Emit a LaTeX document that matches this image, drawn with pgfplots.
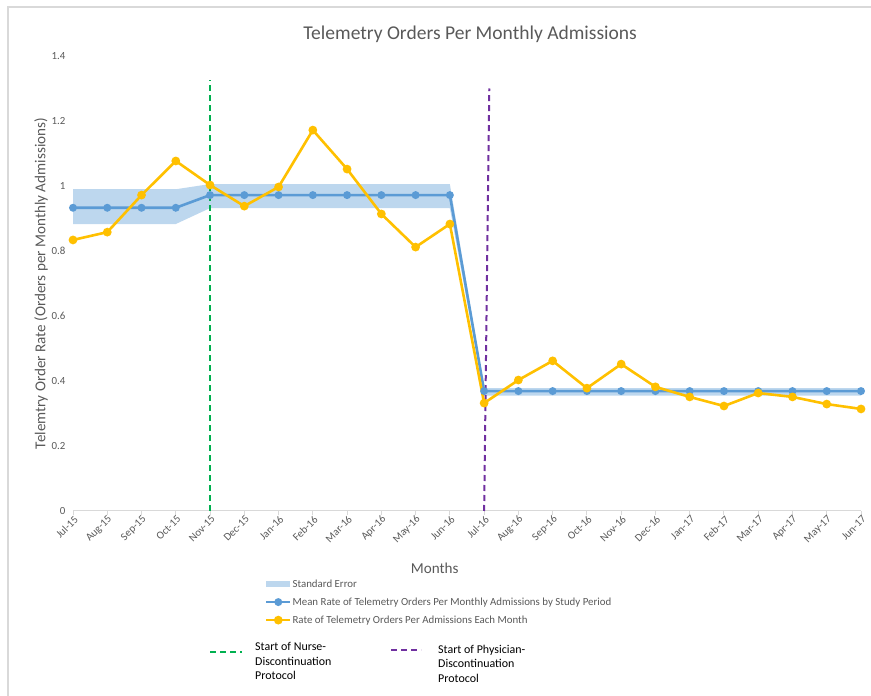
\documentclass[border=0pt]{standalone}
\usepackage{pgfplots}
\pgfplotsset{compat=1.18}
\usepackage{fontspec}
\setmainfont{Carlito}
\definecolor{txtgray}{HTML}{595959}
\definecolor{bluel}{HTML}{5B9BD5}
\definecolor{band}{HTML}{BDD7EE}
\definecolor{gold}{HTML}{FFC000}
\definecolor{grn}{HTML}{00B050}
\definecolor{purp}{HTML}{7030A0}
\definecolor{axgray}{HTML}{D9D9D9}
\pgfplotsset{
 mylegline/.style={legend image code/.code={\draw[mark repeat=2,mark phase=2,##1] plot coordinates {(0bp,0bp) (12bp,0bp) (24bp,0bp)};}},
 mylegarea/.style={legend image code/.code={\fill[band] (0bp,-3bp) rectangle (24bp,3bp);}},
}

\begin{document}
\begin{tikzpicture}
\useasboundingbox (0bp,0bp) rectangle (871bp,696bp);
\draw[axgray, line width=1.2bp] (8bp,0bp) -- (8bp,689bp) -- (871bp,689bp);
\begin{axis}[
 at={(73bp,185bp)}, anchor=south west,
 scale only axis, width=788bp, height=455bp,
 xmin=0, xmax=23, ymin=0, ymax=1.4,
 axis x line*=bottom, axis y line*=left,
 x axis line style={draw=axgray, line width=1bp},
 y axis line style={draw=none},
 ytick={0,0.2,0.4,0.6,0.8,1,1.2,1.4},
 yticklabels={0,0.2,0.4,0.6,0.8,1,1.2,1.4},
 ytick style={draw=none},
 xtick={0,...,23},
 xticklabels={Jul-15,Aug-15,Sep-15,Oct-15,Nov-15,Dec-15,Jan-16,Feb-16,Mar-16,Apr-16,May-16,Jun-16,Jul-16,Aug-16,Sep-16,Oct-16,Nov-16,Dec-16,Jan-17,Feb-17,Mar-17,Apr-17,May-17,Jun-17},
 xtick style={draw=axgray, line width=1bp},
 tick align=outside, major tick length=4bp,
 xticklabel style={rotate=45, anchor=east, font=\fontsize{10.9}{13}\selectfont, text=txtgray, inner sep=1bp, xshift=1.5bp, yshift=-4bp},
 yticklabel style={font=\fontsize{10.9}{13}\selectfont, text=txtgray},
 title={Telemetry Orders Per Monthly Admissions},
 title style={at={(axis description cs:0.504,1.035)}, anchor=center, font=\fontsize{19.6}{23}\selectfont, text=txtgray},
 xlabel={Months},
 xlabel style={at={(axis description cs:0.459,-0.125)}, anchor=center, font=\fontsize{15.2}{18}\selectfont, text=txtgray},
 ylabel={Telemtry Order Rate (Orders per Monthly Admissions)},
 ylabel style={at={(axis description cs:-0.0406,0.5)}, anchor=center, font=\fontsize{15.2}{18}\selectfont, text=txtgray},
 legend style={at={(axis description cs:0.2434,-0.148)}, anchor=north west, draw=none, fill=none,
   font=\fontsize{10.9}{13}\selectfont, text=txtgray, row sep=7bp, inner sep=0pt,
   cells={anchor=west}, nodes={inner sep=1bp}},
 clip=false,
]
% standard error band (upper edge forward, lower edge back)
\addplot[fill=band, draw=none, mylegarea] coordinates {
(0,0.990) (1,0.990) (2,0.990) (3,0.990) (4,1.006) (5,1.006) (6,1.006) (7,1.006) (8,1.006) (9,1.006) (10,1.006) (11,1.006)
(12,0.378) (13,0.378) (14,0.378) (15,0.378) (16,0.378) (17,0.378) (18,0.378) (19,0.378) (20,0.378) (21,0.378) (22,0.378) (23,0.378)
(23,0.355) (22,0.355) (21,0.355) (20,0.355) (19,0.355) (18,0.355) (17,0.355) (16,0.355) (15,0.355) (14,0.355) (13,0.355) (12,0.355)
(11,0.932) (10,0.932) (9,0.932) (8,0.932) (7,0.932) (6,0.932) (5,0.932) (4,0.932) (3,0.883) (2,0.883) (1,0.883) (0,0.883)} -- cycle;
\addlegendentry{Standard Error}
% vertical protocol lines
\addplot[grn, line width=2bp, dash pattern=on 6bp off 4bp, forget plot] coordinates {(4,0) (4,1.326)};
\addplot[purp, line width=2bp, dash pattern=on 6bp off 4bp, forget plot] coordinates {(12,0) (12.15,1.30)};
% mean rate
\addplot[bluel, line width=2.6bp, mark=*, mark size=2.6bp, mark options={fill=bluel, draw=bluel}, mylegline] coordinates {
(0,0.933) (1,0.933) (2,0.933) (3,0.933) (4,0.972) (5,0.972) (6,0.972) (7,0.972) (8,0.972) (9,0.972) (10,0.972) (11,0.972)
(12,0.369) (13,0.369) (14,0.369) (15,0.369) (16,0.369) (17,0.369) (18,0.369) (19,0.369) (20,0.369) (21,0.369) (22,0.369) (23,0.369)};
\addlegendentry{Mean Rate of Telemetry Orders Per Monthly Admissions by Study Period}
% monthly rate
\addplot[gold, line width=2.6bp, mark=*, mark size=3bp, mark options={fill=gold, draw=gold}, mylegline] coordinates {
(0,0.834) (1,0.858) (2,0.972) (3,1.077) (4,1.003) (5,0.938) (6,0.997) (7,1.172) (8,1.052) (9,0.914) (10,0.812) (11,0.883)
(12,0.332) (13,0.403) (14,0.462) (15,0.378) (16,0.452) (17,0.382) (18,0.351) (19,0.323) (20,0.363) (21,0.351) (22,0.329) (23,0.314)};
\addlegendentry{Rate of Telemetry Orders Per Admissions Each Month}
\end{axis}
% protocol legend
\draw[grn, line width=2bp, dash pattern=on 6bp off 4bp] (210bp,44bp) -- (242bp,44bp);
\node[anchor=north west, align=left, font=\fontsize{12}{14.5}\selectfont, inner sep=0pt] at (255bp,53.5bp) {Start of Nurse-\\Discontinuation\\Protocol};
\draw[purp, line width=2bp, dash pattern=on 6bp off 4bp] (391bp,46bp) -- (421bp,46bp);
\node[anchor=north west, align=left, font=\fontsize{12}{14.5}\selectfont, inner sep=0pt] at (438bp,51bp) {Start of Physician-\\Discontinuation\\Protocol};
\end{tikzpicture}
\end{document}
